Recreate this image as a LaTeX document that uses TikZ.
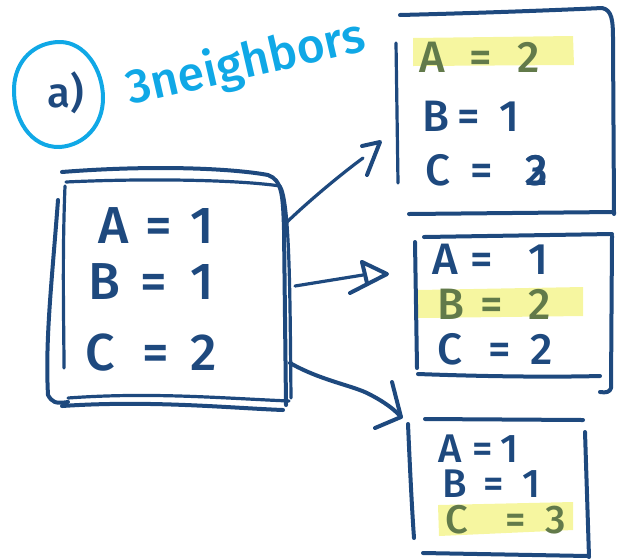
\documentclass[tikz,border=0pt]{standalone}
\usepackage{fontspec}
\setmainfont{Fira Sans}[UprightFont={* Medium}]
\usetikzlibrary{calc}

\definecolor{ink}{RGB}{30,73,126}
\definecolor{sky}{RGB}{16,168,230}
\definecolor{hilite}{RGB}{246,246,160}
\definecolor{olive}{RGB}{98,122,74}

% key = value row with hand-set gaps
\newcommand{\kvrow}[4]{\makebox[#3pt][l]{#1}\makebox[#4pt][l]{=}#2}

\tikzset{
  pen/.style={draw=ink, line width=4pt, line cap=round, line join=round},
  thinpen/.style={draw=ink, line width=3.2pt, line cap=round, line join=round},
  bigtxt/.style={text=ink, anchor=base west, inner sep=0pt, font=\fontsize{52}{52}\selectfont},
  midtxt/.style={text=ink, anchor=base west, inner sep=0pt, font=\fontsize{44}{44}\selectfont},
  smalltxt/.style={text=ink, anchor=base west, inner sep=0pt, font=\fontsize{40}{40}\selectfont},
  marker/.style={fill=hilite, draw=none},
}

\begin{document}
\begin{tikzpicture}[x=1pt, y=-1pt]
\useasboundingbox (0,0) rectangle (617,558);

% ---------- highlighter strokes (under the text) ----------
\fill[marker] (413,38) -- (573,36) -- (574,65) -- (413,66) -- cycle;
\fill[marker] (418,290) -- (583,287) -- (583,316) -- (418,318) -- cycle;
\fill[marker] (438,505) -- (573,502) -- (573,530) -- (439,536) -- cycle;

% ---------- title ----------
\draw[draw=sky, line width=4pt, line cap=round]
  (60,42) .. controls (85,42) and (103,70) .. (103,98)
  .. controls (103,125) and (85,145) .. (60,147)
  .. controls (30,148) and (13,118) .. (14,88)
  .. controls (15,60) and (35,42) .. (60,42);
\node[text=ink, inner sep=0pt, font=\fontsize{42}{42}\selectfont] (lbl) at (66,93) {a)};
\node[text=sky, inner sep=0pt, rotate=13, font=\fontsize{48}{48}\selectfont] (title) at (246,64) {3neighbors};

% ---------- source state ----------
\node[draw=none, minimum width=240pt, minimum height=235pt] (src) at (168,288) {};
\draw[pen] (62,172) .. controls (150,165) and (230,168) .. (268,175)
  .. controls (282,180) and (283,195) .. (284,230) -- (286,405);
\draw[thinpen] (66,182) .. controls (150,178) and (240,180) .. (280,186)
  .. controls (290,200) and (290,300) .. (291,398);
\draw[thinpen] (65,186) .. controls (62,260) and (64,330) .. (64,368);
\draw[pen] (58,200) .. controls (52,280) and (45,340) .. (48,395)
  .. controls (52,402) and (55,404) .. (68,402);
\draw[thinpen] (68,398) .. controls (150,392) and (220,398) .. (289,401);
\draw[pen] (62,406) .. controls (150,400) and (230,408) .. (283,410);

\node[bigtxt] (sa) at (98,243) {\kvrow{A}{1}{47}{45}};
\node[bigtxt] (sb) at (88,299) {\kvrow{B}{1}{52}{50}};
\node[bigtxt] (sc) at (85,370) {\kvrow{C}{2}{57}{48}};

% ---------- neighbour 1 ----------
\node[draw=none, minimum width=218pt, minimum height=205pt] (n1) at (505,111) {};
\draw[pen] (400,15) .. controls (480,13) and (560,10) .. (602,8)
  .. controls (612,10) and (613,20) .. (613,40) -- (614,214);
\draw[thinpen] (396,43) -- (398,183);
\draw[pen] (409,214) -- (614,212);
\node[midtxt, text=olive] (n1a) at (419,72) {\kvrow{A}{2}{50}{48}};
\node[midtxt] (n1b) at (422,131) {\kvrow{B}{1}{35}{42}};
\node[midtxt] (n1c) at (425,185) {\kvrow{C}{\rlap{3}2}{45}{55}};

% ---------- neighbour 2 ----------
\node[draw=none, minimum width=200pt, minimum height=160pt] (n2) at (513,313) {};
\draw[pen] (424,237) -- (612,234);
\draw[pen] (415,242) -- (417,368);
\draw[pen] (612,236) -- (611,388) .. controls (610,392) and (606,393) .. (600,392);
\draw[pen] (418,374) .. controls (500,377) and (560,377) .. (600,376);
\node[midtxt] (n2a) at (432,274) {\kvrow{A}{1}{38}{58}};
\node[midtxt, text=olive] (n2b) at (437,319) {\kvrow{B}{2}{43}{48}};
\node[midtxt] (n2c) at (437,364) {\kvrow{C}{2}{51}{42}};

% ---------- neighbour 3 ----------
\node[draw=none, minimum width=185pt, minimum height=140pt] (n3) at (498,487) {};
\draw[pen] (425,419) -- (583,420);
\draw[pen] (408,424) .. controls (410,470) and (412,510) .. (414,538);
\draw[pen] (585,432) -- (589,557);
\draw[pen] (423,553) -- (588,556);
\node[smalltxt] (n3a) at (438,462) {\kvrow{A}{1}{34}{28}};
\node[smalltxt] (n3b) at (442,497) {\kvrow{B}{1}{41}{39}};
\node[smalltxt, text=olive] (n3c) at (445,533) {\kvrow{C}{3}{60}{40}};

% ---------- transitions ----------
\coordinate (e1s) at (287,222);
\coordinate (e1t) at (380,142);
\coordinate (e2s) at (295,286);
\coordinate (e2t) at (387,274);
\coordinate (e3s) at (290,363);
\coordinate (e3t) at (401,417);

\draw[thinpen] (e1s) .. controls (310,200) and (340,175) .. (363,158);
\draw[pen] (362,146) -- (e1t) -- (367,175);

\draw[thinpen] (e2s) -- (363,275);
\draw[pen] (362,262) -- (e2t) -- (350,293);
\draw[pen] (362,262) -- (367,283);

\draw[pen] (e3s) .. controls (320,380) and (350,385) .. (367,393)
  .. controls (385,402) and (395,410) .. (e3t);
\draw[pen] (392,382) -- (e3t) -- (375,428);
\end{tikzpicture}
\end{document}
